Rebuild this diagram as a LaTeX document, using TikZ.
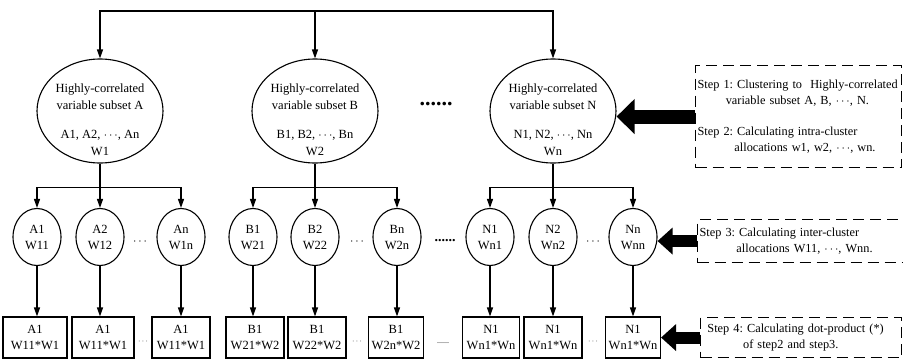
\documentclass[tikz,border=0pt]{standalone}
\usepackage{fontspec}
\setmainfont{Liberation Serif}
\usetikzlibrary{arrows.meta, positioning, shapes.geometric}

\begin{document}
\frenchspacing
\begin{tikzpicture}[
    x=1pt, y=-1pt,
    font=\fontsize{12.5}{17}\selectfont,
    >={Triangle[length=9pt, width=6pt]},
    subset/.style={ellipse, draw, line width=1.1pt, minimum width=126pt, minimum height=104pt, inner sep=0pt},
    weight/.style={ellipse, draw, line width=1.1pt, minimum width=48pt, minimum height=57pt, inner sep=0pt, align=center, font=\fontsize{12.5}{16}\selectfont},
    product/.style={rectangle, draw, line width=1.1pt, minimum width=58pt, minimum height=41pt, inner sep=2pt, align=center, font=\fontsize{12.5}{16}\selectfont},
    stepbox/.style={rectangle, draw, dashed, dash pattern=on 11pt off 6pt, line width=1.1pt, anchor=north west,
        text width=202pt, align=left, inner xsep=2pt, font=\fontsize{12.3}{16.5}\selectfont},
    link/.style={->, line width=1.1pt},
    bigarrow/.style={line width=12pt, -{Triangle[length=15pt, width=26pt]}}
]
\useasboundingbox (0,0) rectangle (903,359);

% Subsets
\node[subset] (A) at (100,111) {};
\node[subset] (B) at (315,111) {};
\node[subset] (N) at (553,111) {};
\node[align=center] (A-text) at ([yshift=-9pt]A.center) {Highly-correlated\\variable subset A\\[12pt]A1, A2, $\cdots$, An\\W1};
\node[align=center] (B-text) at ([yshift=-9pt]B.center) {Highly-correlated\\variable subset B\\[12pt]B1, B2, $\cdots$, Bn\\W2};
\node[align=center] (N-text) at ([yshift=-9pt]N.center) {Highly-correlated\\variable subset N\\[12pt]N1, N2, $\cdots$, Nn\\Wn};
\node[font=\fontsize{22}{22}\selectfont\bfseries] (dots-top) at (436,104) {......};

% Root line
\coordinate (root) at (315,11);
\draw[link] (root) -| (A);
\draw[link] (root) -- (B);
\draw[link] (root) -| (N);

% Inter-cluster weights
\node[weight] (A1) at (37,237) {A1\\W11};
\node[weight] (A2) at (100,237) {A2\\W12};
\node[weight] (An) at (181,237) {An\\W1n};
\node[weight] (B1) at (253,237) {B1\\W21};
\node[weight] (B2) at (315,237) {B2\\W22};
\node[weight] (Bn) at (397,237) {Bn\\W2n};
\node[weight] (N1) at (490,237) {N1\\Wn1};
\node[weight] (N2) at (553,237) {N2\\Wn2};
\node[weight] (Nn) at (633,237) {Nn\\Wnn};
\node (dots-A) at (140,242) {$\cdots$};
\node (dots-B) at (357,242) {$\cdots$};
\node[font=\fontsize{14}{14}\selectfont\bfseries] (dots-mid) at (445,241) {......};
\node (dots-N) at (593,242) {$\cdots$};

\coordinate (A-split) at ([yshift=-24pt]A.south);
\coordinate (B-split) at ([yshift=-24pt]B.south);
\coordinate (N-split) at ([yshift=-24pt]N.south);
\draw[link] (A.south) -- (A2);
\draw[link] (A-split) -| (A1);
\draw[link] (A-split) -| (An);
\draw[link] (B.south) -- (B2);
\draw[link] (B-split) -| (B1);
\draw[link] (B-split) -| (Bn);
\draw[link] (N.south) -- (N2);
\draw[link] (N-split) -| (N1);
\draw[link] (N-split) -| (Nn);

% Dot-products
\node[product, minimum width=64pt] (A1p) at (35,337.5) {A1\\W11*W1};
\node[product, minimum width=62pt] (A2p) at (103,337.5) {A1\\W11*W1};
\node[product] (Anp) at (181,337.5) {A1\\W11*W1};
\node[product] (B1p) at (255,337.5) {B1\\W21*W2};
\node[product] (B2p) at (317,337.5) {B1\\W22*W2};
\node[product, minimum width=55pt] (Bnp) at (396,337.5) {B1\\W2n*W2};
\node[product, minimum width=57pt] (N1p) at (491,337.5) {N1\\Wn1*Wn};
\node[product] (N2p) at (553,337.5) {N1\\Wn1*Wn};
\node[product, minimum width=55pt] (Nnp) at (633,337.5) {N1\\Wn1*Wn};
\node[font=\footnotesize] (pdots-A) at (143,342) {$\cdots$};
\node[font=\footnotesize] (pdots-B) at (357,342) {$\cdots$};
\node[font=\footnotesize] (pdots-mid) at (443,343) {......};
\node[font=\footnotesize] (pdots-N) at (593,342) {$\cdots$};

\foreach \w in {A1, A2, An, B1, B2, Bn, N1, N2, Nn}
    \draw[link] (\w) -- (\w |- \w p.north);

% Steps
\node[stepbox, minimum height=102pt] (step12) at (695,65)
    {\mbox{Step 1: Clustering to~ Highly-correlated}\\\hspace*{2.3em}variable subset A, B, $\cdots$, N.\\[14pt]
     Step 2: Calculating intra-cluster\\\hspace*{3em}allocations w1, w2, $\cdots$, wn.};
\node[stepbox, minimum height=43pt] (step3) at (697,219)
    {Step 3: Calculating inter-cluster\\\hspace*{3em}allocations W11, $\cdots$, Wnn.};
\node[stepbox, minimum height=40pt, text width=197pt] (step4) at (700,317)
    {\hspace*{0.4em}Step 4: Calculating dot-product (*)\\\hspace*{3.3em}of step2 and step3.};

\draw[bigarrow, line width=14pt, -{Triangle[length=18pt, width=34pt]}] (step12.west) -- (step12.west -| N.east);
\draw[bigarrow] (step3.west) -- (step3.west -| Nn.east);
\draw[bigarrow] (step4.west) -- (step4.west -| Nnp.east);

\end{tikzpicture}
\end{document}
